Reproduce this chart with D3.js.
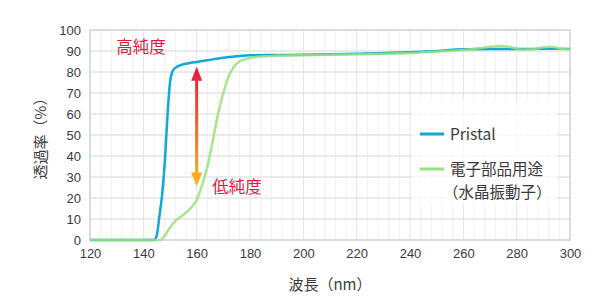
<!DOCTYPE html>
<html>
<head>
<meta charset="utf-8">
<script src="https://cdn.jsdelivr.net/npm/d3@7"></script>
<style>
  body { margin: 0; background: #fff; }
  svg { font-family: "Noto Sans CJK JP", "Noto Sans", sans-serif; }
  .tick text { fill: #3a3a3a; font-size: 13px; }
</style>
</head>
<body>
<svg id="chart"></svg>
<script>
const width = 600;
const height = 300;
const margin = { top: 30, right: 30, bottom: 60, left: 90 };

// wavelength (nm) / transmittance (%)
const pristalWave = [120, 144, 145, 146, 147, 148, 149, 150, 151, 152, 154, 157, 160, 164, 170, 175, 180, 190, 200, 220, 240, 250, 260, 270, 280, 300];
const pristalValue = [0, 0, 2, 11, 21, 36, 58, 75, 80.5, 82, 83.3, 84.2, 84.8, 85.6, 86.8, 87.5, 88, 88.1, 88.2, 88.7, 89.4, 90, 90.8, 91, 91, 91.2];

const quartzWave = [120, 146.5, 148, 150, 152, 155, 158, 160, 162, 164, 166, 168, 170, 172, 174, 176, 180, 185, 190, 200, 220, 240, 250, 260, 266, 270, 274, 278, 282, 286, 290, 293, 296, 300];
const quartzValue = [0, 0, 2, 6, 9, 12, 15.5, 19, 26, 35, 47, 60, 70, 78, 82.5, 85, 86.7, 87.5, 87.8, 88, 88.5, 89, 89.8, 90.5, 91.3, 92, 92.4, 91.8, 90.6, 90.8, 91.8, 92, 91.3, 90.6];

const seriesNames = ["Pristal", "電子部品用途", "（水晶振動子）"];
const xTicks = [120, 140, 160, 180, 200, 220, 240, 260, 280, 300];
const yTicks = [0, 10, 20, 30, 40, 50, 60, 70, 80, 90, 100];

const blue = "#13a6da";
const green = "#98e07c";
const red = "#e5173f";

const svg = d3.select("#chart").attr("width", width).attr("height", height);

const x = d3.scaleLinear().domain([120, 300]).range([margin.left, width - margin.right]);
const y = d3.scaleLinear().domain([0, 100]).range([height - margin.bottom, margin.top]);

// grid
const grid = svg.append("g");
grid.selectAll("line.minor")
  .data(d3.range(124, 300, 4).filter((d) => (d - 120) % 20 !== 0))
  .enter()
  .append("line")
  .attr("x1", (d) => x(d)).attr("x2", (d) => x(d))
  .attr("y1", y(0)).attr("y2", y(100))
  .attr("stroke", "#f1f1f1").attr("stroke-width", 1);
grid.selectAll("line.vmajor")
  .data(xTicks)
  .enter()
  .append("line")
  .attr("x1", (d) => x(d)).attr("x2", (d) => x(d))
  .attr("y1", y(0)).attr("y2", y(100))
  .attr("stroke", "#e4e4e4").attr("stroke-width", 1);
grid.selectAll("line.hmajor")
  .data(yTicks)
  .enter()
  .append("line")
  .attr("x1", x(120)).attr("x2", x(300))
  .attr("y1", (d) => y(d)).attr("y2", (d) => y(d))
  .attr("stroke", "#e4e4e4").attr("stroke-width", 1.5);

// frame
svg.append("rect")
  .attr("x", x(120)).attr("y", y(100))
  .attr("width", x(300) - x(120)).attr("height", y(0) - y(100))
  .attr("fill", "none").attr("stroke", "#dcdcdc").attr("stroke-width", 2);

// axes
const xAxis = svg.append("g")
  .attr("transform", "translate(0," + y(0) + ")")
  .call(d3.axisBottom(x).tickValues(xTicks).tickSize(0).tickPadding(9));
xAxis.select(".domain").remove();

const yAxis = svg.append("g")
  .attr("transform", "translate(" + x(120) + ",0)")
  .call(d3.axisLeft(y).tickValues(yTicks).tickSize(0).tickPadding(9));
yAxis.select(".domain").remove();

// axis titles
svg.append("text")
  .attr("x", x(210)).attr("y", 290)
  .attr("text-anchor", "middle")
  .attr("fill", "#3a3a3a").attr("font-size", 15)
  .text("波長（nm）");

svg.append("text")
  .attr("transform", "translate(46," + y(50) + ") rotate(-90)")
  .attr("text-anchor", "middle")
  .attr("fill", "#3a3a3a").attr("font-size", 15)
  .text("透過率（%）");

// lines
const line = d3.line()
  .x((d) => x(d[0]))
  .y((d) => y(d[1]))
  .curve(d3.curveMonotoneX);

svg.append("path")
  .datum(d3.zip(pristalWave, pristalValue))
  .attr("d", line)
  .attr("fill", "none").attr("stroke", blue).attr("stroke-width", 2.5);

svg.append("path")
  .datum(d3.zip(quartzWave, quartzValue))
  .attr("d", line)
  .attr("fill", "none").attr("stroke", green).attr("stroke-width", 2.5)
  .attr("stroke-opacity", 0.85);

// arrow with gradient
const defs = svg.append("defs");
const grad = defs.append("linearGradient")
  .attr("id", "arrowGrad")
  .attr("gradientUnits", "userSpaceOnUse")
  .attr("x1", 0).attr("x2", 0)
  .attr("y1", y(82.5)).attr("y2", y(25.5));
grad.append("stop").attr("offset", "0%").attr("stop-color", red);
grad.append("stop").attr("offset", "100%").attr("stop-color", "#fbb717");

const ax = x(160);
const yTop = y(82.5);
const yBot = y(25.5);
svg.append("path")
  .attr("d",
    "M" + ax + "," + yTop +
    "L" + (ax + 5.5) + "," + (yTop + 14) +
    "L" + (ax + 1.5) + "," + (yTop + 14) +
    "L" + (ax + 1.5) + "," + (yBot - 14) +
    "L" + (ax + 5.5) + "," + (yBot - 14) +
    "L" + ax + "," + yBot +
    "L" + (ax - 5.5) + "," + (yBot - 14) +
    "L" + (ax - 1.5) + "," + (yBot - 14) +
    "L" + (ax - 1.5) + "," + (yTop + 14) +
    "L" + (ax - 5.5) + "," + (yTop + 14) + "Z")
  .attr("fill", "url(#arrowGrad)");

svg.append("text")
  .attr("x", x(129.8)).attr("y", y(92) + 6)
  .attr("fill", red).attr("font-size", 16.5)
  .text("高純度");

svg.append("text")
  .attr("x", x(165.8)).attr("y", y(25.5) + 7)
  .attr("fill", red).attr("font-size", 16.5)
  .text("低純度");

// legend
const legend = svg.append("g");
legend.append("rect")
  .attr("x", 412).attr("y", 100)
  .attr("width", 145).attr("height", 104)
  .attr("fill", "#fff").attr("fill-opacity", 0.75);

legend.append("line")
  .attr("x1", 420).attr("x2", 444)
  .attr("y1", 134).attr("y2", 134)
  .attr("stroke", blue).attr("stroke-width", 3);
legend.append("text")
  .attr("x", 450).attr("y", 139.5)
  .attr("fill", "#3a3a3a").attr("font-size", 15.5)
  .text(seriesNames[0]);

legend.append("line")
  .attr("x1", 420).attr("x2", 444)
  .attr("y1", 169).attr("y2", 169)
  .attr("stroke", green).attr("stroke-width", 3);
legend.append("text")
  .attr("x", 450).attr("y", 175)
  .attr("fill", "#3a3a3a").attr("font-size", 15.5)
  .text(seriesNames[1]);
legend.append("text")
  .attr("x", 443).attr("y", 198)
  .attr("fill", "#3a3a3a").attr("font-size", 15.5)
  .text(seriesNames[2]);
</script>
</body>
</html>
